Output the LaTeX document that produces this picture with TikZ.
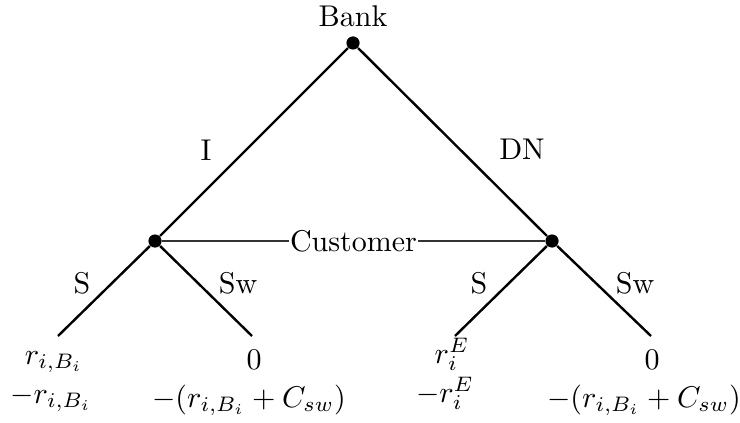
\documentclass[tikz,border=0pt]{standalone}
\begin{document}
\begin{tikzpicture}[x=0.33333pt,y=-0.33333pt,
  dotnode/.style={circle,fill=black,inner sep=0pt,minimum size=4.4pt},
  branch/.style={line width=0.8pt},
  lbl/.style={anchor=base,inner sep=0pt},
  pay/.style={anchor=base,inner sep=0pt}]
\useasboundingbox (0,0) rectangle (740,423);
% nodes
\node[dotnode] (bank) at (353,43) {};
\node[dotnode] (c1) at (155,241) {};
\node[dotnode] (c2) at (552,241) {};
\coordinate (l1) at (58,336);
\coordinate (l2) at (252,336);
\coordinate (l3) at (455,336);
\coordinate (l4) at (651,336);
% branches
\draw[branch] (bank) -- (c1);
\draw[branch] (bank) -- (c2);
\draw[branch] (c1) -- (l1);
\draw[branch] (c1) -- (l2);
\draw[branch] (c2) -- (l3);
\draw[branch] (c2) -- (l4);
% information set
\draw[line width=0.4pt,black!80] (c1) -- node[fill=white,text=black,inner xsep=0.3pt,inner ysep=0pt] (cust) {Customer} (c2);
% labels
\node[lbl] (bankl) at (353,27) {Bank};
\node[lbl] (il) at (206,160) {I};
\node[lbl] (dnl) at (522,159) {DN};
\node[lbl] (s1) at (82,293) {S};
\node[lbl] (sw1) at (238,293) {Sw};
\node[lbl] (s2) at (479,293) {S};
\node[lbl] (sw2) at (635,293) {Sw};
% payoffs
\node[pay] (p1a) at (54,364) {$r_{i,B_i}$};
\node[pay] (p1b) at (51,403) {$-r_{i,B_i}$};
\node[pay] (p2a) at (254,369) {$0$};
\node[pay] (p2b) at (249,407) {$-(r_{i,B_i}+C_{sw})$};
\node[pay] (p3a) at (452,363) {$r_i^E$};
\node[pay] (p3b) at (445,402) {$-r_i^E$};
\node[pay] (p4a) at (652,369) {$0$};
\node[pay] (p4b) at (644,407) {$-(r_{i,B_i}+C_{sw})$};
\end{tikzpicture}
\end{document}
